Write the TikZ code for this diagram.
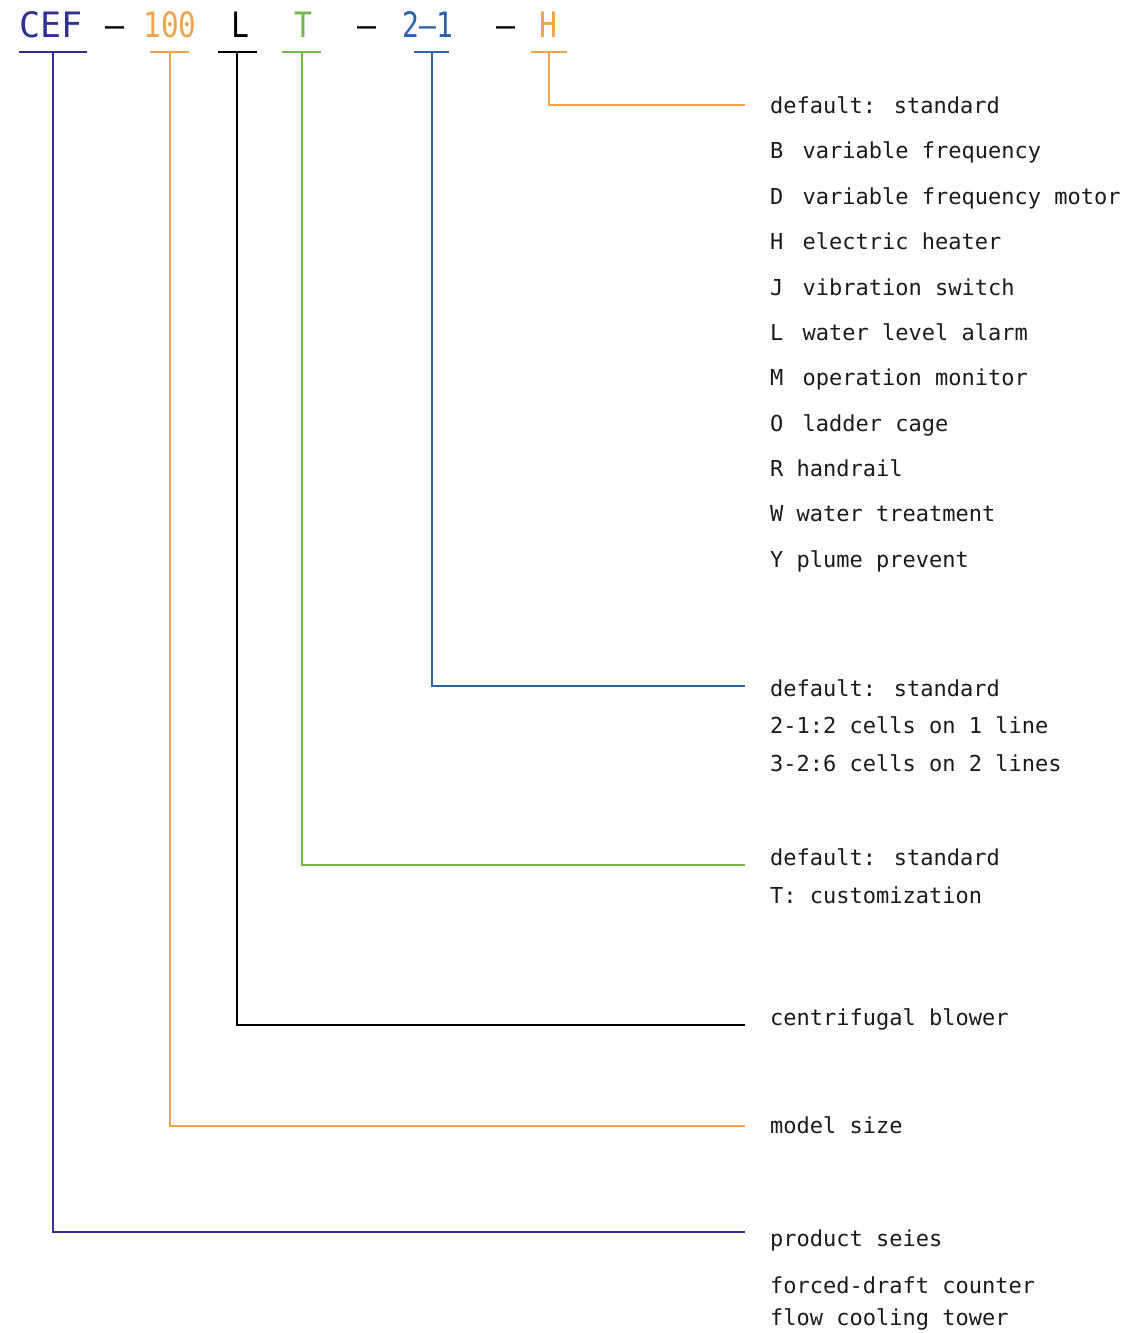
\documentclass[tikz,border=0pt]{standalone}
\usepackage{fontspec}
\setmonofont{DejaVu Sans Mono}
\newfontfamily\descfont{DejaVu Sans Mono}
\newfontfamily\headfont{DejaVu Sans Mono}
\definecolor{cnavy}{HTML}{2E3192}
\definecolor{corange}{HTML}{F0A34A}
\definecolor{cgreen}{HTML}{72B84B}
\definecolor{cblue}{HTML}{2B63A8}
\definecolor{ctext}{HTML}{1A1A1A}
\begin{document}
\begin{tikzpicture}[x=1pt,y=-1pt,
  head/.style={inner sep=0pt,anchor=base,font=\headfont\fontsize{35}{35}\selectfont},
  desc/.style={inner sep=0pt,anchor=base west,text=ctext,font=\descfont\fontsize{22}{22}\selectfont},
  lead/.style={line width=1.8pt},
  bar/.style={line width=2pt}]
\useasboundingbox (0,0) rectangle (1129,1333);
% header
\node[head,text=cnavy] (cef) at (51,37) {\scalebox{1.0}[1]{CEF}};
\node[head] (d1) at (115,37) {\scalebox{0.9}[1]{–}};
\node[head,text=corange] (n100) at (170,37) {\scalebox{0.84}[1]{100}};
\node[head] (l) at (240,37) {\scalebox{0.85}[1]{L}};
\node[head,text=cgreen] (t) at (303,37) {\scalebox{0.85}[1]{T}};
\node[head] (d2) at (367,37) {\scalebox{0.9}[1]{–}};
\node[head,text=cblue] (n21) at (428,37) {\scalebox{0.8}[1]{2–1}};
\node[head] (d3) at (506,37) {\scalebox{0.9}[1]{–}};
\node[head,text=corange] (h) at (548,37) {\scalebox{0.85}[1]{H}};
% underline bars
\coordinate (cefL) at (19,52); \coordinate (cefR) at (87,52);
\coordinate (n100L) at (150,52); \coordinate (n100R) at (189,52);
\coordinate (lL) at (218,52); \coordinate (lR) at (257,52);
\coordinate (tL) at (282,52); \coordinate (tR) at (321,52);
\coordinate (n21L) at (414,52); \coordinate (n21R) at (449,52);
\coordinate (hL) at (531,52); \coordinate (hR) at (567,52);
\draw[bar,cnavy] (cefL) -- (cefR);
\draw[bar,corange] (n100L) -- (n100R);
\draw[bar,black] (lL) -- (lR);
\draw[bar,cgreen] (tL) -- (tR);
\draw[bar,cblue] (n21L) -- (n21R);
\draw[bar,corange] (hL) -- (hR);
% description texts
\node[desc] (hopt0) at (770,113) {default: standard};
\node[desc] (hopt1) at (770,158) {B\hspace{6pt} variable frequency};
\node[desc] (hopt2) at (770,204) {D\hspace{6pt} variable frequency motor};
\node[desc] (hopt3) at (770,249) {H\hspace{6pt} electric heater};
\node[desc] (hopt4) at (770,295) {J\hspace{6pt} vibration switch};
\node[desc] (hopt5) at (770,340) {L\hspace{6pt} water level alarm};
\node[desc] (hopt6) at (770,385) {M\hspace{6pt} operation monitor};
\node[desc] (hopt7) at (770,431) {O\hspace{6pt} ladder cage};
\node[desc] (hopt8) at (770,476) {R handrail};
\node[desc] (hopt9) at (770,521) {W water treatment};
\node[desc] (hopt10) at (770,567) {Y plume prevent};
\node[desc] (copt0) at (770,696) {default: standard};
\node[desc] (copt1) at (770,733) {2-1:2 cells on 1 line};
\node[desc] (copt2) at (770,771) {3-2:6 cells on 2 lines};
\node[desc] (topt0) at (770,865) {default: standard};
\node[desc] (topt1) at (770,903) {T: customization};
\node[desc] (ldesc) at (770,1025) {centrifugal blower};
\node[desc] (mdesc) at (770,1133) {model size};
\node[desc] (pdesc) at (770,1246) {product seies};
\node[desc] (pdesc2) at (770,1293) {forced-draft counter};
\node[desc] (pdesc3) at (770,1325) {flow cooling tower};
% leaders
\coordinate (hE) at (745,105);
\coordinate (n21E) at (745,686);
\coordinate (tE) at (745,865);
\coordinate (lE) at (745,1025);
\coordinate (n100E) at (745,1126);
\coordinate (cefE) at (745,1232);
\draw[lead,corange] (549,52) |- (hE);
\draw[lead,cblue] (432,52) |- (n21E);
\draw[lead,cgreen] (302,52) |- (tE);
\draw[lead,black] (237,52) |- (lE);
\draw[lead,corange] (170,52) |- (n100E);
\draw[lead,cnavy] (53,52) |- (cefE);
\end{tikzpicture}
\end{document}
